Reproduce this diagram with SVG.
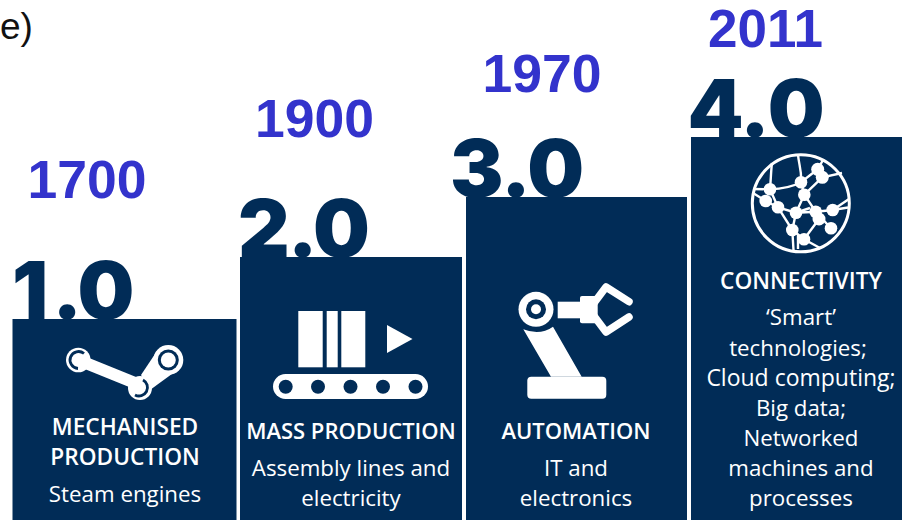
<svg xmlns="http://www.w3.org/2000/svg" width="902" height="520" viewBox="0 0 902 520">
<style>
.bg{fill:#012c57}
.digit{font-family:Inter,"Liberation Sans",sans-serif;font-weight:900;font-size:80px;fill:#012c57}
.year{font-family:"Liberation Sans",Arial,sans-serif;font-weight:700;font-size:53.5px;fill:#3333cc}
.t{font-family:"Open Sans","Noto Sans",sans-serif;font-weight:600;font-size:22.7px;fill:#fff;text-anchor:middle}
.s{font-size:22px}
.b{font-family:"Open Sans","Noto Sans",sans-serif;font-weight:400;font-size:22.3px;fill:#fff;text-anchor:middle}
.w{fill:#fff}.n{fill:#012c57}
.l{stroke:#fff;fill:none;stroke-width:2.4}
.c{fill:#fff}
</style>
<text x="0" y="39" font-family="Liberation Sans,Arial,sans-serif" font-size="37" fill="#111">e)</text>
<g id="node-1">
<text class="year" x="27.500" y="198">1700</text>
<text class="digit" x="12" y="319" letter-spacing="-1" dx="0 5 -1">1.0</text>
<rect class="bg" x="12.500" y="319" width="224" height="201"/>
<g id="icon-1">
<path d="M78.300 360L140 385" stroke="#fff" stroke-width="12" fill="none"/>
<path d="M157 351L141 375L150 390L176 371Z" class="w"/>
<circle class="w" cx="78.300" cy="360" r="12.300"/>
<path d="M84 353.500A8.500 8.500 0 1 0 78 368.500" fill="none" stroke="#012c57" stroke-width="2.800"/>
<circle class="w" cx="168.300" cy="360" r="15"/><circle class="n" cx="168.300" cy="360" r="10.500"/><circle class="w" cx="168.300" cy="360" r="7.500"/>
<circle class="w" cx="140" cy="388" r="12"/>
<path d="M143 380A8.500 8.500 0 0 1 135 395" fill="none" stroke="#012c57" stroke-width="2.800"/>
</g>
<text class="t" x="125" y="435">MECHANISED</text>
<text class="t" x="125" y="465">PRODUCTION</text>
<text class="b" x="125" y="502">Steam engines</text>
</g>
<g id="node-2">
<text class="year" x="255" y="137">1900</text>
<text class="digit" x="238" y="257" letter-spacing="-2">2.0</text>
<rect class="bg" x="240" y="257" width="222" height="263"/>
<g id="icon-2">
<rect class="w" x="298.300" y="311" width="24.400" height="56.300"/>
<rect class="w" x="326.700" y="311" width="11" height="56.300"/>
<rect class="w" x="341.300" y="311" width="24" height="56.300"/>
<path class="w" d="M387 325V353L412.500 339Z"/>
<rect class="w" x="273" y="374" width="155" height="25" rx="12.500"/>
<circle class="n" cx="285.700" cy="386.700" r="7"/><circle class="n" cx="318" cy="386.700" r="7"/><circle class="n" cx="350.500" cy="386.700" r="7"/><circle class="n" cx="383" cy="386.700" r="7"/><circle class="n" cx="415.500" cy="386.700" r="7"/>
</g>
<text class="t s" x="351" y="438.500">MASS PRODUCTION</text>
<text class="b" x="351" y="476">Assembly lines and</text>
<text class="b" x="351" y="506">electricity</text>
</g>
<g id="node-3">
<text class="year" x="482.500" y="92">1970</text>
<text class="digit" x="450" y="197" letter-spacing="-1">3.0</text>
<rect class="bg" x="466" y="197" width="221" height="323"/>
<g id="icon-3">
<circle class="w" cx="536" cy="309.300" r="17.500"/><circle class="n" cx="536" cy="309.300" r="10"/><circle class="w" cx="536" cy="309.300" r="5"/>
<path class="w" d="M523.300 329.300Q540 336 553 326.700L581.700 376.700H551Z"/>
<rect class="w" x="527.300" y="376.700" width="79" height="22" rx="4"/>
<rect class="w" x="557.700" y="301.700" width="26" height="16.600"/>
<rect class="w" x="580" y="296" width="17.700" height="27.300" rx="2"/>
<path d="M629 301.700L606 287L594 303M629 317L606 332L594 316" stroke="#fff" stroke-width="7.500" stroke-linecap="round" stroke-linejoin="round" fill="none"/>
</g>
<text class="t s" x="576" y="438.500">AUTOMATION</text>
<text class="b" x="576" y="476">IT and</text>
<text class="b" x="576" y="506">electronics</text>
</g>
<g id="node-4">
<text class="year" x="708" y="47" style="font-size:53px">2011</text>
<text class="digit" x="687.500" y="137" letter-spacing="-1" dx="0 0 1.500">4.0</text>
<rect class="bg" x="691" y="137" width="211" height="383"/>
<g id="icon-4">
<circle cx="800.800" cy="203.300" r="48.500" fill="none" stroke="#fff" stroke-width="3"/>
<path class="l" d="M770 189.300C781 189 792 187 801 182.300L817.700 169.300M801 182.300L804.300 194.700L796 212.700L778 207.300L765.700 201M770 189.300L778 207.300M804.300 194.700L815.700 211.700L831 228.300M815.700 211.700L796 212.700L792.300 230L804 239.300L819 219L815.700 211.700M804.300 194.700L822.300 177.300M796 212.700L810 208M792.300 230L778 207.300M815.700 211.700L832.700 210L849 199M832.700 210L848 207.500M804 239.300L820 248M792.300 230L793.500 250M798 235L798 249M801 182.300C802 172 799 165 798 155M770 189.300C771 178 771 170 772 163M770 189.300L753 189M765.700 201L753 193M822.300 177.300L842 173M817.700 169.300L823 160"/>
<g class="c"><circle cx="817.700" cy="169.300" r="6.500"/><circle cx="822.300" cy="177.300" r="6.500"/><circle cx="801" cy="182.300" r="6.300"/><circle cx="804.300" cy="194.700" r="6.300"/><circle cx="770" cy="189.300" r="6.300"/><circle cx="765.700" cy="201" r="6.300"/><circle cx="778" cy="207.300" r="6.300"/><circle cx="796" cy="212.700" r="6.300"/><circle cx="815.700" cy="211.700" r="6.300"/><circle cx="819" cy="219" r="6.500"/><circle cx="832.700" cy="210" r="6.300"/><circle cx="831" cy="228.300" r="6.300"/><circle cx="792.300" cy="230" r="6.300"/><circle cx="804" cy="239.300" r="6.300"/></g>
</g>
<text class="t" x="801" y="289">CONNECTIVITY</text>
<text class="b" x="801" y="325">‘Smart’</text>
<text class="b" x="798" y="356">technologies;</text>
<text class="b" x="801" y="386" style="font-size:23px">Cloud computing;</text>
<text class="b" x="801" y="416">Big data;</text>
<text class="b" x="801" y="446">Networked</text>
<text class="b" x="801" y="476">machines and</text>
<text class="b" x="801" y="506">processes</text>
</g>
</svg>
